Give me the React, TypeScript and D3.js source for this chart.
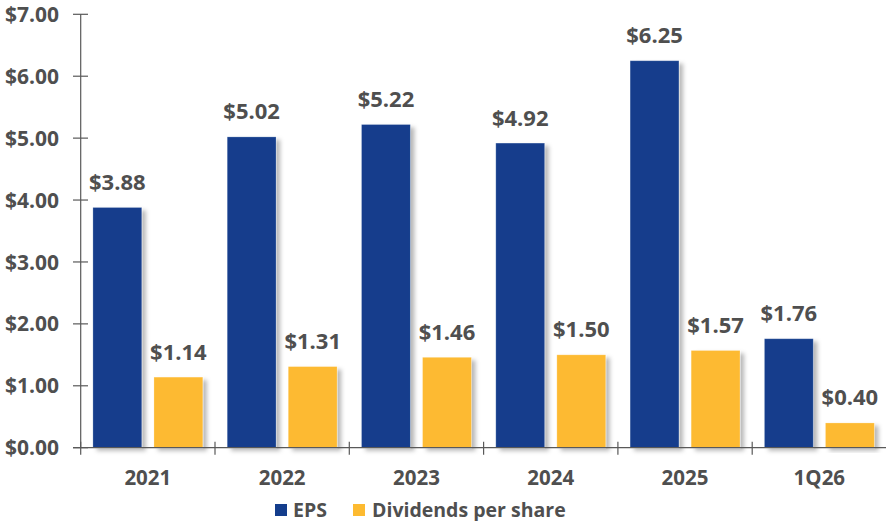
import React from "react";
import * as d3 from "d3";

const categories = ["2021", "2022", "2023", "2024", "2025", "1Q26"];
const epsValues = [3.88, 5.02, 5.22, 4.92, 6.25, 1.76];
const dividendValues = [1.14, 1.31, 1.46, 1.5, 1.57, 0.4];
const yTicks = [0, 1, 2, 3, 4, 5, 6, 7];
const seriesNames = ["EPS", "Dividends per share"];
const seriesColors = ["#143D8C", "#FDBA30"];

const W = 886;
const H = 521;
const FONT = "'Open Sans', 'DejaVu Sans', sans-serif";
const TEXT = "#4F4F4F";
const AXIS = "#595959";

export default function App() {
  const x = d3.scaleBand<string>().domain(categories).range([80.7, 886.5]).paddingInner(0).paddingOuter(0);
  const sub = d3.scaleBand<string>().domain(["eps", "div"]).range([0, x.bandwidth()]).paddingInner(0.2).paddingOuter(0.2);
  const y = d3.scaleLinear().domain([0, 7]).range([447.7, 14.3]);
  const fmt = (v: number) => "$" + d3.format(".2f")(v);

  const series = [
    { key: "eps", values: epsValues, color: seriesColors[0] },
    { key: "div", values: dividendValues, color: seriesColors[1] },
  ];

  const axisX = x.range()[0];

  return (
    <svg width={W} height={H} style={{ position: "absolute", left: 0, top: 0, background: "#fff" }} fontFamily={FONT}>
      <defs>
        <filter id="shadow" x="-20%" y="-20%" width="150%" height="140%">
          <feDropShadow dx="4" dy="3" stdDeviation="2" floodColor="#000" floodOpacity="0.28" />
        </filter>
      </defs>

      {/* bars */}
      {series.map((s) =>
        categories.map((c, i) => {
          const bx = (x(c) as number) + (sub(s.key) as number);
          const by = y(s.values[i]);
          return (
            <rect
              key={s.key + c}
              x={bx}
              y={by}
              width={sub.bandwidth()}
              height={y(0) - by}
              fill={s.color}
              stroke="#ffffff"
              strokeOpacity={0.3}
              strokeWidth={0.8}
              filter="url(#shadow)"
            />
          );
        })
      )}

      {/* y axis */}
      <line x1={axisX} x2={axisX} y1={y(7)} y2={y(0)} stroke={AXIS} strokeWidth={1.2} />
      {yTicks.map((t) => (
        <g key={t}>
          <line x1={73} x2={88} y1={y(t)} y2={y(t)} stroke={AXIS} strokeWidth={1.2} />
          <text x={59} y={y(t)} dy="0.36em" textAnchor="end" fontSize={21} fontWeight={700} fill={TEXT}>
            {fmt(t)}
          </text>
        </g>
      ))}

      {/* x axis */}
      <line x1={73} x2={W} y1={y(0)} y2={y(0)} stroke={AXIS} strokeWidth={1.2} />
      {categories.map((c) => (
        <g key={c}>
          <line x1={x(c) as number} x2={x(c) as number} y1={y(0) - 6} y2={y(0) + 7} stroke={AXIS} strokeWidth={1.2} />
          <text
            x={(x(c) as number) + x.bandwidth() / 2}
            y={485}
            textAnchor="middle"
            fontSize={20.5}
            fontWeight={700}
            fill={TEXT}
          >
            {c}
          </text>
        </g>
      ))}

      {/* value labels */}
      {series.map((s) =>
        categories.map((c, i) => {
          const cx = (x(c) as number) + (sub(s.key) as number) + sub.bandwidth() / 2;
          return (
            <text
              key={"l" + s.key + c}
              x={cx}
              y={y(s.values[i]) - 17.5}
              textAnchor="middle"
              fontSize={22}
              fontWeight={700}
              fill={TEXT}
            >
              {fmt(s.values[i])}
            </text>
          );
        })
      )}

      {/* legend */}
      <rect x={275} y={504} width={12} height={12} fill={seriesColors[0]} />
      <text x={293} y={516.5} fontSize={19.5} fontWeight={700} fill={TEXT}>
        {seriesNames[0]}
      </text>
      <rect x={353} y={504} width={12} height={12} fill={seriesColors[1]} />
      <text x={372} y={516.5} fontSize={19.5} fontWeight={700} fill={TEXT}>
        {seriesNames[1]}
      </text>
    </svg>
  );
}
